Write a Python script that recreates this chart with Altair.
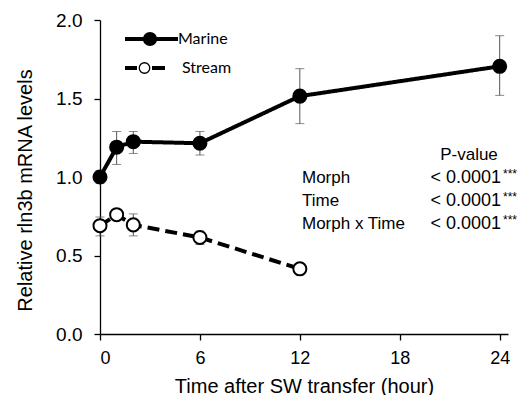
import altair as alt
import pandas as pd

# ---- data ----
marine_hours = [0, 1, 2, 6, 12, 24]
marine_mean = [1.00, 1.19, 1.225, 1.215, 1.515, 1.705]
marine_lo = [0.96, 1.08, 1.15, 1.14, 1.34, 1.52]
marine_hi = [1.04, 1.29, 1.29, 1.29, 1.69, 1.90]

stream_hours = [0, 1, 2, 6, 12]
stream_mean = [0.69, 0.76, 0.695, 0.615, 0.415]
stream_lo = [0.625, 0.74, 0.625, 0.57, 0.385]
stream_hi = [0.745, 0.78, 0.765, 0.655, 0.445]

x_ticks = [0, 6, 12, 18, 24]
y_ticks = [0.0, 0.5, 1.0, 1.5, 2.0]

morphs = ["Marine", "Stream"]
stat_header = "P-value"
stat_terms = ["Morph", "Time", "Morph x Time"]
stat_p = ["< 0.0001", "< 0.0001", "< 0.0001"]
stat_sig = ["***", "***", "***"]

rows = []
for h, m, lo, hi in zip(marine_hours, marine_mean, marine_lo, marine_hi):
    rows.append({"hour": h, "mean": m, "lo": lo, "hi": hi, "morph": "Marine"})
for h, m, lo, hi in zip(stream_hours, stream_mean, stream_lo, stream_hi):
    rows.append({"hour": h, "mean": m, "lo": lo, "hi": hi, "morph": "Stream"})
df = pd.DataFrame(rows)

FONT = "Liberation Sans"
X_TITLE = "Time after SW transfer (hour)"
Y_TITLE = "Relative rln3b mRNA levels"

x_scale = alt.Scale(domain=[0, 24.5], nice=False, zero=False)
y_scale = alt.Scale(domain=[0, 2], nice=False)

x_axis = alt.Axis(values=x_ticks, title=X_TITLE,
                  format="d", grid=False, domainColor="black",
                  domainWidth=1.3, tickColor="black", tickWidth=1.3,
                  tickSize=6, labelFontSize=18, labelFont=FONT,
                  labelColor="black", labelPadding=9,
                  titleFontSize=20, titleFont=FONT,
                  titleFontWeight="normal", titleColor="black",
                  titlePadding=9)
y_axis = alt.Axis(values=y_ticks, title=Y_TITLE,
                  format=".1f", grid=False, domainColor="black",
                  domainWidth=1.3, tickColor="black", tickWidth=1.3,
                  tickSize=6, labelFontSize=19, labelFont=FONT,
                  labelColor="black", labelPadding=12,
                  titleFontSize=20, titleFont=FONT,
                  titleFontWeight="normal", titleColor="black",
                  titleY=170, titleX=-65)

X = alt.X("hour:Q", scale=x_scale, axis=x_axis, title=X_TITLE)


def Y(field):
    return alt.Y(field, scale=y_scale, axis=y_axis, title=Y_TITLE)


base = alt.Chart(df)

err_rule = base.mark_rule(color="#555555", strokeWidth=1).encode(
    x=X, y=Y("lo:Q"), y2="hi:Q")
err_cap_lo = base.mark_tick(color="#555555", thickness=1, size=9,
                            orient="horizontal").encode(x=X, y=Y("lo:Q"))
err_cap_hi = base.mark_tick(color="#555555", thickness=1, size=9,
                            orient="horizontal").encode(x=X, y=Y("hi:Q"))

dash_scale = alt.Scale(domain=morphs, range=[[1, 0], [12, 6]])
fill_scale = alt.Scale(domain=morphs, range=["black", "white"])

lines = base.mark_line(color="black", strokeWidth=4).encode(
    x=X, y=Y("mean:Q"),
    strokeDash=alt.StrokeDash("morph:N", scale=dash_scale, legend=None),
    detail="morph:N")

points = base.mark_point(shape="circle", size=170, stroke="black",
                         strokeWidth=2, opacity=1, filled=False).encode(
    x=X, y=Y("mean:Q"),
    fill=alt.Fill("morph:N", scale=fill_scale, legend=None))

# ---- manual legend ----
leg_df = pd.DataFrame({"morph": morphs})
leg_m = alt.Chart(leg_df[leg_df.morph == "Marine"])
leg_s = alt.Chart(leg_df[leg_df.morph == "Stream"])
leg_marine_line = leg_m.mark_rule(color="black", strokeWidth=4).encode(
    x=alt.value(25), x2=alt.value(78), y=alt.value(19))
leg_stream_dash1 = leg_s.mark_rule(color="black", strokeWidth=4).encode(
    x=alt.value(25), x2=alt.value(37), y=alt.value(48))
leg_stream_dash2 = leg_s.mark_rule(color="black", strokeWidth=4).encode(
    x=alt.value(52), x2=alt.value(65), y=alt.value(48))
leg_marine_pt = leg_m.mark_point(shape="circle", size=150, stroke="black",
                                 strokeWidth=2, fill="black", opacity=1).encode(
    x=alt.value(50), y=alt.value(19))
leg_stream_pt = leg_s.mark_point(shape="circle", size=110, stroke="black",
                                 strokeWidth=1.3, fill="white", opacity=1).encode(
    x=alt.value(44.5), y=alt.value(48))
leg_marine_txt = leg_m.mark_text(align="left", baseline="middle", fontSize=16,
                                 font="Lato", color="black").encode(
    text="morph:N", x=alt.value(78), y=alt.value(19))
leg_stream_txt = leg_s.mark_text(align="left", baseline="middle", fontSize=16,
                                 font="Lato", color="black").encode(
    text="morph:N", x=alt.value(82), y=alt.value(48))

# ---- stats table ----
stat_df = pd.DataFrame({
    "terms": ["\n".join(stat_terms)],
    "p": ["\n".join(stat_p)],
    "sig": ["\n".join(stat_sig)],
    "header": [stat_header],
})
stat_base = alt.Chart(stat_df)
hdr = stat_base.mark_text(align="center", baseline="alphabetic", fontSize=17,
                          font=FONT, color="black").encode(
    text="header:N", x=alt.value(369), y=alt.value(140))
terms = stat_base.mark_text(align="left", baseline="alphabetic", fontSize=17,
                            font=FONT, color="black", lineBreak="\n",
                            lineHeight=23).encode(
    text="terms:N", x=alt.value(202), y=alt.value(163))
pvals = stat_base.mark_text(align="right", baseline="alphabetic", fontSize=18,
                            font=FONT, color="black", lineBreak="\n",
                            lineHeight=23).encode(
    text="p:N", x=alt.value(401), y=alt.value(163))
sigs = stat_base.mark_text(align="left", baseline="alphabetic", fontSize=12,
                           font=FONT, color="black", lineBreak="\n",
                           lineHeight=23).encode(
    text="sig:N", x=alt.value(403), y=alt.value(158))

chart = alt.layer(
    err_rule, err_cap_lo, err_cap_hi, lines, points,
    leg_marine_line, leg_stream_dash1, leg_stream_dash2,
    leg_marine_pt, leg_stream_pt,
    leg_marine_txt, leg_stream_txt,
    hdr, terms, pvals, sigs,
).properties(
    width=408, height=314,
    background="white",
    autosize=alt.AutoSizeParams(type="none"),
    padding={"left": 100, "top": 20, "right": 17, "bottom": 61},
).configure_view(stroke=None)

chart.save("out.html", embed_options={"renderer": "svg", "actions": False})
